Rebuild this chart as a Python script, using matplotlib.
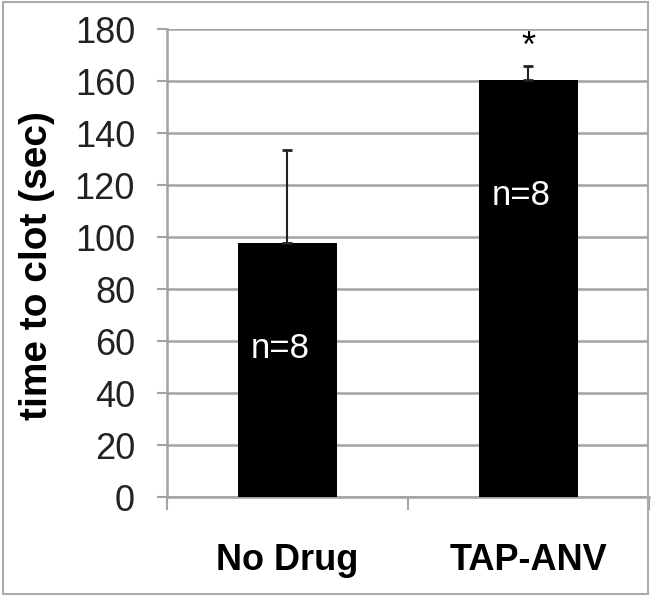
import matplotlib
matplotlib.use("Agg")
import matplotlib.pyplot as plt
from matplotlib.patches import Rectangle

# Datos
groups = ["No Drug", "TAP-ANV"]
clotTime = [97.8, 160.4]
clotErr = [35.8, 5.5]
nLabels = ["n=8", "n=8"]
nLabelY = [57, 116]
yTicks = [0, 20, 40, 60, 80, 100, 120, 140, 160, 180]

plt.rcParams['font.family'] = ['Liberation Sans', 'DejaVu Sans']
gridGray = '#a3a3a3'

fig = plt.figure(figsize=(6.51, 5.96), dpi=100)
ax = fig.add_axes([0.2565, 0.1661, 0.7404, 0.7852])

x = list(range(len(groups)))

# Barras con error solo hacia arriba
ax.bar(x, clotTime, width=0.41, color='black', zorder=3)
ax.errorbar(x, clotTime, yerr=[[0] * len(clotErr), clotErr], fmt='none',
            ecolor='#222222', elinewidth=1.5, capsize=3.5, capthick=2, zorder=4)

# Etiquetas n=8 dentro de las barras
for xi, lab, yi in zip(x, nLabels, nLabelY):
    ax.text(xi - 0.03, yi, lab, color='white', fontsize=25, ha='center', va='center', zorder=5)

# Asterisco de significancia
ax.text(x[1], clotTime[1] + clotErr[1] + 7, '*', fontsize=26, ha='center', va='center')

# Ejes
ax.set_xlim(-0.5, 1.49)
ax.set_ylim(0, 180)
ax.set_yticks(yTicks)
ax.set_yticklabels([str(t) for t in yTicks], fontsize=26, color='#222222')
ax.set_xticks(x)
ax.set_xticklabels(groups, fontsize=26, fontweight='bold')
ax.set_xticks([-0.5, 0.5, 1.5], minor=True)
ax.tick_params(axis='x', which='major', length=0, pad=33)
ax.tick_params(axis='x', which='minor', length=9, width=1.5, color=gridGray, direction='out')
ax.tick_params(axis='y', length=7, width=1.5, color=gridGray, pad=16)

ax.grid(axis='y', color=gridGray, linewidth=1.8, zorder=0)
ax.set_axisbelow(True)
for side in ['top', 'right']:
    ax.spines[side].set_visible(False)
for side in ['left', 'bottom']:
    ax.spines[side].set_color(gridGray)
    ax.spines[side].set_linewidth(1.8)

fig.text(37 / 651, 1 - 266 / 596, 'time to clot (sec)', rotation=90, fontsize=28,
         fontweight='bold', ha='center', va='center')

# Marco gris alrededor de la imagen
fig.patches.append(Rectangle((0.004, 0.004), 0.992, 0.992, transform=fig.transFigure,
                             fill=False, edgecolor='#aaaaaa', linewidth=1.5))

fig.savefig('out.png', dpi=100)
